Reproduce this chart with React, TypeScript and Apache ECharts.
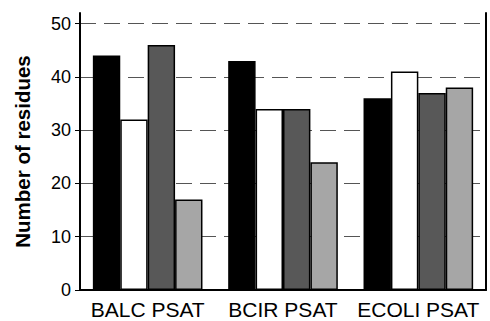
import React, { useEffect, useRef } from "react";
import * as echarts from "echarts";

const categories = ["BALC PSAT", "BCIR PSAT", "ECOLI PSAT"];
const series1 = [44, 43, 36];
const series2 = [32, 34, 41];
const series3 = [46, 34, 37];
const series4 = [17, 24, 38];
const yTicks = [0, 10, 20, 30, 40, 50];

const FONT = "'Liberation Sans', Arial, sans-serif";

export default function App() {
  const ref = useRef<HTMLDivElement>(null);
  useEffect(() => {
    if (!ref.current) return;
    const chart = echarts.init(ref.current, null, { renderer: "svg" });
    const mk = (name: string, data: number[], color: string) => ({
      name,
      type: "bar",
      data,
      barGap: "0%",
      barCategoryGap: "19%",
      itemStyle: { color, borderColor: "#000", borderWidth: 1.5 },
    });
    chart.setOption({
      animation: false,
      backgroundColor: "#fff",
      grid: { left: 80, right: 4, top: 13, bottom: 31 },
      xAxis: {
        type: "category",
        data: categories,
        axisLine: { show: true, lineStyle: { color: "#000", width: 2 } },
        axisTick: { show: false },
        axisLabel: { color: "#000", fontSize: 21, fontFamily: FONT, margin: 9, interval: 0 },
      },
      yAxis: [
        {
          type: "value",
          min: 0,
          max: 52,
          interval: 10,
          name: "Number of residues",
          nameLocation: "middle",
          nameRotate: 90,
          nameGap: 47,
          nameTextStyle: { color: "#000", fontSize: 20.5, fontWeight: "bold", fontFamily: FONT },
          axisLine: { show: true, lineStyle: { color: "#000", width: 2 } },
          axisTick: { show: true, length: 5, lineStyle: { color: "#000" } },
          axisLabel: {
            color: "#000",
            fontSize: 18,
            fontFamily: FONT,
            margin: 9,
            showMaxLabel: false,
            formatter: (v: number) => (yTicks.includes(v) ? String(v) : ""),
          },
          splitLine: {
            show: true,
            showMaxLine: false,
            showMinLine: false,
            lineStyle: { color: "#555", type: [16, 8], width: 1 },
          },
        },
        {
          type: "value",
          position: "right",
          min: 0,
          max: 52,
          interval: 10,
          axisLine: { show: true, lineStyle: { color: "#000", width: 2 } },
          axisTick: { show: false },
          axisLabel: { show: false },
          splitLine: { show: false },
        },
      ],
      series: [
        mk("s1", series1, "#000000"),
        mk("s2", series2, "#ffffff"),
        mk("s3", series3, "#585858"),
        mk("s4", series4, "#a6a6a6"),
      ],
    });
    return () => chart.dispose();
  }, []);
  return <div ref={ref} style={{ width: 490, height: 321, position: "absolute", left: 0, top: 0 }} />;
}
